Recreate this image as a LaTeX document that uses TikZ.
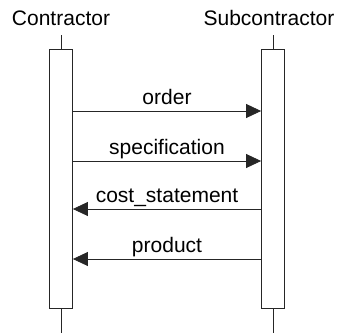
\documentclass[tikz,border=0pt]{standalone}
\usepackage{fontspec}
\setmainfont{Liberation Sans}
\usetikzlibrary{arrows.meta}

\begin{document}
\begin{tikzpicture}[x=1pt,y=-1pt,>={Triangle[length=15pt,width=14pt]},line width=0.8pt,draw=black!85,
        bar/.style={rectangle,draw,minimum width=23pt,minimum height=259pt,inner sep=0pt},
        head/.style={anchor=base,inner sep=0pt,font=\fontsize{21}{25}\selectfont},
        msg/.style={above,inner sep=2pt,text height=15pt,text depth=4pt,font=\fontsize{21}{25}\selectfont}]
    \useasboundingbox (0,0) rectangle (337,333);

    \node[head] (contractor) at (61,25) {Contractor};
    \node[head] (subcontractor) at (269,25) {Subcontractor};

    \node[bar] (cbar) at (61,178.5) {};
    \node[bar] (sbar) at (273,178.5) {};

    % lifelines
    \coordinate (ctop) at (61,35);
    \coordinate (cend) at (61,333);
    \coordinate (stop) at (273,35);
    \coordinate (send) at (273,333);
    \draw (ctop) -- (cbar.north) (cbar.south) -- (cend);
    \draw (stop) -- (sbar.north) (sbar.south) -- (send);

    % message ends
    \coordinate (c1) at (cbar.east |- 0,111);
    \coordinate (s1) at (sbar.west |- 0,111);
    \coordinate (c2) at (cbar.east |- 0,161);
    \coordinate (s2) at (sbar.west |- 0,161);
    \coordinate (c3) at (cbar.east |- 0,209);
    \coordinate (s3) at (sbar.west |- 0,209);
    \coordinate (c4) at (cbar.east |- 0,259);
    \coordinate (s4) at (sbar.west |- 0,259);

    \path[->]
        (c1) edge node[msg] {order} (s1)
        (c2) edge node[msg] {specification} (s2)
        (s3) edge node[msg] {cost\_statement} (c3)
        (s4) edge node[msg] {product} (c4)
        ;
\end{tikzpicture}
\end{document}
